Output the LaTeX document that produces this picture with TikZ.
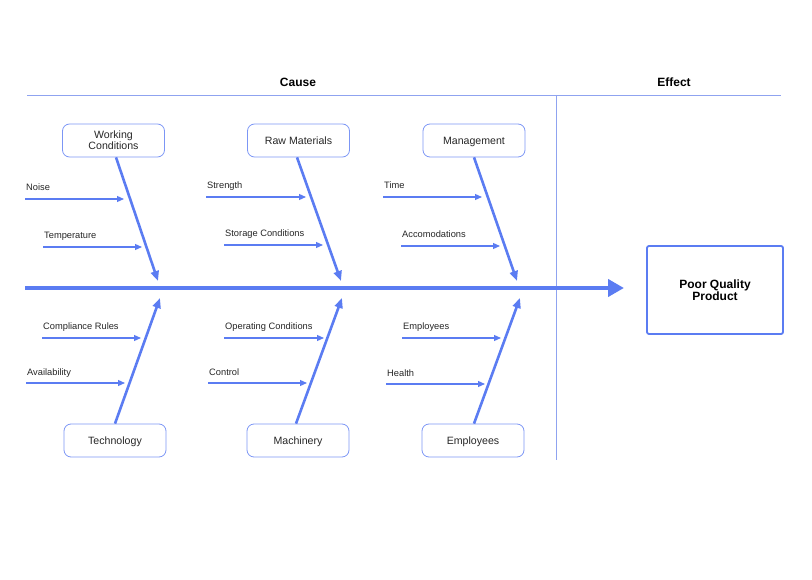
\documentclass[tikz,border=0pt]{standalone}
\usepackage{fontspec}
\setmainfont{Liberation Sans}
\usetikzlibrary{arrows.meta}
\definecolor{fb}{HTML}{5B7CF2}
\definecolor{fl}{HTML}{8FA3F0}
\tikzset{
  catbox/.style={draw=fb!80, line width=0.8pt, rounded corners=7pt, minimum width=102pt, minimum height=33pt, align=center, font=\fontsize{10.6}{11}\selectfont, text=black!85},
  effbox/.style={draw=fb, line width=1.8pt, rounded corners=2pt, minimum width=136pt, minimum height=88pt, align=center, font=\bfseries\fontsize{12}{12}\selectfont},
  bone/.style={draw=fb, line width=2.6pt, -{Triangle[length=10pt,width=8pt]}},
  twig/.style={draw=fb, line width=1.2pt, -{Triangle[length=7pt,width=6pt]}},
  spine/.style={draw=fb, line width=4.5pt, -{Triangle[length=16pt,width=17pt]}},
  lbl/.style={font=\fontsize{9.3}{10}\selectfont, anchor=base west, inner sep=0pt, text=black!85},
  head/.style={font=\bfseries\fontsize{12}{13}\selectfont},
  rule/.style={draw=fl, line width=0.8pt}
}
\begin{document}
\begin{tikzpicture}[x=1pt,y=-1pt]
\useasboundingbox (0,0) rectangle (812,580);
% header
\node[head] (cause) at (298,82) {Cause};
\node[head] (effect) at (674,82) {Effect};
\coordinate (hl) at (27,95); \coordinate (hr) at (781,95);
\coordinate (vt) at (556,95); \coordinate (vb) at (556,460);
\draw[rule] (hl) -- (hr);
\draw[rule] (vt) -- (vb);
% spine
\coordinate (s0) at (25,288); \coordinate (s1) at (624,288);
\draw[spine] (s0) -- (s1);
% effect
\node[effbox] (eff) at (715,290) {Poor Quality\\Product};
% top boxes
\node[catbox] (wc) at (113.5,140.5) {Working\\Conditions};
\node[catbox] (rm) at (298.5,140.5) {Raw Materials};
\node[catbox] (mg) at (474,140.5) {\raisebox{0pt}[\height][0pt]{Management}};
% bottom boxes
\node[catbox] (te) at (115,440.5) {\raisebox{0pt}[\height][0pt]{Technology}};
\node[catbox] (ma) at (298,440.5) {\raisebox{0pt}[\height][0pt]{Machinery}};
\node[catbox] (em) at (473,440.5) {\raisebox{0pt}[\height][0pt]{Employees}};
% bone ends
\coordinate (wcE) at (158,281); \coordinate (rmE) at (341,281); \coordinate (mgE) at (517,281);
\coordinate (teE) at (160,298); \coordinate (maE) at (342,298); \coordinate (emE) at (520,298);
\draw[bone] (wc.south -| 116,0) -- (wcE);
\draw[bone] (rm.south -| 297,0) -- (rmE);
\draw[bone] (mg.south -| 474,0) -- (mgE);
\draw[bone] (te.north -| 115,0) -- (teE);
\draw[bone] (ma.north -| 296,0) -- (maE);
\draw[bone] (em.north -| 474,0) -- (emE);
% twigs
\foreach \n/\xa/\xb/\y/\t in {
  noise/25/124/199/Noise,
  temp/43/142/247/Temperature,
  str/206/306/197/Strength,
  sto/224/323/245/Storage Conditions,
  tim/383/482/197/Time,
  acc/401/500/246/Accomodations,
  comp/42/141/338/Compliance Rules,
  avail/26/125/383/Availability,
  oper/224/324/338/Operating Conditions,
  ctrl/208/307/383/Control,
  empl/402/501/338/Employees,
  heal/386/485/384/Health}{
  \coordinate (\n a) at (\xa,\y);
  \coordinate (\n b) at (\xb,\y);
  \draw[twig] (\n a) -- (\n b);
  \node[lbl] (\n l) at (\xa+1,\y-8) {\t};
}
\end{tikzpicture}
\end{document}
